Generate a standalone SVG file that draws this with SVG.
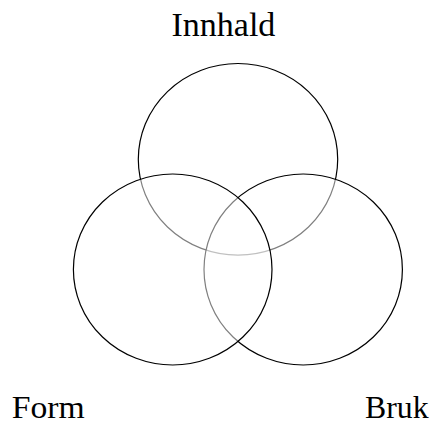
<svg xmlns="http://www.w3.org/2000/svg" width="433" height="425" viewBox="0 0 433 425">
  <style>
    .set { fill: #ffffff; fill-opacity: 0.5; stroke: #000000; stroke-width: 1.2; }
    .label { font-family: "Liberation Serif", "Times New Roman", serif; fill: #000000; }
  </style>
  <rect width="433" height="425" fill="#ffffff"/>
  <!-- Drawn bottom to top: each translucent fill greys the outlines beneath it -->
  <g id="innhald">
    <ellipse class="set" cx="238" cy="159.3" rx="99.7" ry="95.8"/>
    <text class="label" x="223.4" y="35.8" font-size="34" text-anchor="middle">Innhald</text>
  </g>
  <g id="bruk">
    <ellipse class="set" cx="303.2" cy="269.5" rx="99.2" ry="95.5"/>
    <text class="label" x="365" y="417.5" font-size="32" textLength="63.5" lengthAdjust="spacingAndGlyphs">Bruk</text>
  </g>
  <g id="form">
    <ellipse class="set" cx="172.7" cy="269.5" rx="99.3" ry="95.5"/>
    <text class="label" x="11.7" y="417.5" font-size="32" textLength="73" lengthAdjust="spacingAndGlyphs">Form</text>
  </g>
  <g id="connectors"/>
</svg>
